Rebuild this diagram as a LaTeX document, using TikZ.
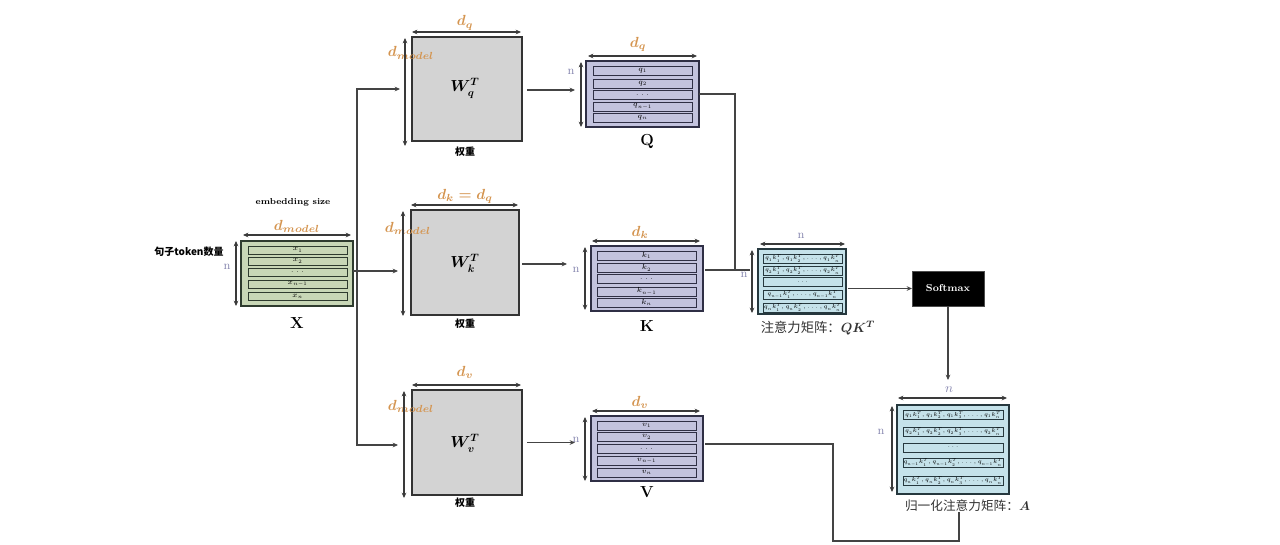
\RequirePackage{fix-cm}
\documentclass[tikz,border=0pt]{standalone}
\usepackage{fontspec}
\newfontfamily\cjk{Noto Sans CJK SC}
\usetikzlibrary{arrows.meta}
\definecolor{dor}{HTML}{D4944F}
\definecolor{ncol}{HTML}{8585AE}
\definecolor{dimc}{HTML}{3A3A3A}
\definecolor{connc}{HTML}{444444}
\definecolor{wfill}{HTML}{D3D3D3}
\definecolor{wline}{HTML}{333333}
\definecolor{xfill}{HTML}{C8D7B6}
\definecolor{xline}{HTML}{2E3B2E}
\definecolor{qfill}{HTML}{C3C3DE}
\definecolor{qline}{HTML}{2F2F45}
\definecolor{afill}{HTML}{C5E2EA}
\definecolor{aline}{HTML}{26383E}
\tikzset{
 sz/.style 2 args={minimum width=#1*0.75pt, minimum height=#2*0.75pt, inner sep=0pt, outer sep=0pt},
 dimarr/.style={draw=dimc, line width=0.9pt, {Stealth[length=4pt,width=3.5pt]}-{Stealth[length=4pt,width=3.5pt]}},
 connl/.style={draw=connc, line width=0.8pt},
 arrl/.style={connl, -{Stealth[length=4pt,width=3.5pt]}},
 wbox/.style={draw=wline, fill=wfill, line width=1pt},
 xbox/.style={draw=xline, fill=xfill, line width=1pt},
 qbox/.style={draw=qline, fill=qfill, line width=1pt},
 abox/.style={draw=aline, fill=afill, line width=1pt},
 xbar/.style={draw=xline, fill=xfill, line width=0.7pt, font=\fontsize{5.5}{6}\selectfont, sz={99}{8}},
 qbar/.style={draw=qline, fill=qfill, line width=0.7pt, font=\fontsize{5.5}{6}\selectfont, sz={99}{9}},
 kbar/.style={draw=aline, fill=afill, line width=0.7pt, font=\fontsize{4.4}{5}\selectfont, sz={79}{9}},
 abar/.style={draw=aline, fill=afill, line width=0.7pt, font=\fontsize{4.4}{5}\selectfont, sz={100}{9}},
 dlab/.style={text=dor, font=\boldmath\fontsize{11}{12}\selectfont, inner sep=0pt},
 nlab/.style={text=ncol, font=\fontsize{9}{10}\selectfont, inner sep=0pt},
 captxt/.style={font=\fontsize{12}{13}\selectfont\bfseries, inner sep=0pt},
 wlab/.style={font=\cjk\bfseries\fontsize{7.5}{8}\selectfont, inner sep=0pt},
 zcap/.style={text=black!80, font=\cjk\fontsize{10}{11}\selectfont, inner sep=0pt},
 wsym/.style={font=\boldmath\fontsize{12}{13}\selectfont, inner sep=0pt}
}
\begin{document}
\begin{tikzpicture}[x=0.75pt,y=-0.75pt]
\useasboundingbox (0,0) rectangle (1280,544);

% ---------- X ----------
\node[xbox, sz={112}{65}] (X) at (297,273.5) {};
\foreach \y/\t [count=\i] in {250/{$x_1$},261/{$x_2$},272.5/{$\dots$},284/{$x_{n-1}$},296.5/{$x_n$}}
  \node[xbar] (xb\i) at (297.5,\y) {\t};
\node[font=\fontsize{6.5}{7}\selectfont\bfseries, inner sep=0pt] (emb) at (293,202) {embedding size};
\node[dlab] (dX) at (297,226) {$d_{model}$};
\node[nlab] (nX) at (227,267) {n};
\node[wlab] (sent) at (189,252) {句子token数量};
\node[captxt] (capX) at (297,323) {X};
\draw[dimarr] ([shift={(2,-6)}]X.north west) -- ([shift={(-2,-6)}]X.north east);
\draw[dimarr] ([shift={(-5,0)}]X.north west) -- ([shift={(-5,0)}]X.south west);

% ---------- weights ----------
\node[wbox, sz={110}{104}] (Wq) at (467,89) {};
\node[wsym] (wqs) at (465,88) {$W_q^T$};
\node[dlab] (dq1) at (465,23) {$d_q$};
\node[dlab] (dm1) at (411,53) {$d_{model}$};
\node[wlab] (wq2) at (465,152) {权重};
\draw[dimarr] ([shift={(0,-5)}]Wq.north west) -- ([shift={(-1,-5)}]Wq.north east);
\draw[dimarr] ([shift={(-7,1)}]Wq.north west) -- ([shift={(-7,5)}]Wq.south west);

\node[wbox, sz={108}{105}] (Wk) at (465,262.5) {};
\node[wsym] (wks) at (465,263) {$W_k^T$};
\node[dlab] (dk1) at (465,196) {$d_k = d_q$};
\node[dlab] (dm2) at (408,228) {$d_{model}$};
\node[wlab] (wk2) at (465,324) {权重};
\draw[dimarr] ([shift={(0,-5)}]Wk.north west) -- ([shift={(-1,-5)}]Wk.north east);
\draw[dimarr] ([shift={(-8,1)}]Wk.north west) -- ([shift={(-8,1)}]Wk.south west);

\node[wbox, sz={110}{105}] (Wv) at (467,442.5) {};
\node[wsym] (wvs) at (465,443) {$W_v^T$};
\node[dlab] (dv1) at (465,372) {$d_v$};
\node[dlab] (dm3) at (411,406) {$d_{model}$};
\node[wlab] (wv2) at (465,503) {权重};
\draw[dimarr] ([shift={(0,-5)}]Wv.north west) -- ([shift={(-1,-5)}]Wv.north east);
\draw[dimarr] ([shift={(-8,1)}]Wv.north west) -- ([shift={(-8,3)}]Wv.south west);

% ---------- Q K V ----------
\node[qbox, sz={113}{66}] (Q) at (642.5,94) {};
\foreach \y/\t [count=\i] in {70.5/{$q_1$},83.5/{$q_2$},95/{$\dots$},106.5/{$q_{n-1}$},117.5/{$q_n$}}
  \node[qbar] (qb\i) at (642.5,\y) {\t};
\node[dlab] (dq2) at (638,44) {$d_q$};
\node[nlab] (nQ) at (571,72) {n};
\node[captxt] (capQ) at (647,141) {Q};
\draw[dimarr] ([shift={(2,-5)}]Q.north west) -- ([shift={(-2,-5)}]Q.north east);
\draw[dimarr] ([shift={(-5,1)}]Q.north west) -- ([shift={(-5,0)}]Q.south west);

\node[qbox, sz={112}{65}] (K) at (647,278.5) {};
\foreach \y/\t [count=\i] in {255.5/{$k_1$},268/{$k_2$},279/{$\dots$},291.5/{$k_{n-1}$},302.5/{$k_n$}}
  \node[qbar] (kb\i) at (646.5,\y) {\t};
\node[dlab] (dk2) at (640,232) {$d_k$};
\node[nlab] (nK) at (576,270) {n};
\node[captxt] (capK) at (647,326) {K};
\draw[dimarr] ([shift={(1,-5)}]K.north west) -- ([shift={(-3,-5)}]K.north east);
\draw[dimarr] ([shift={(-6,1)}]K.north west) -- ([shift={(-6,-1)}]K.south west);

\node[qbox, sz={112}{65}] (V) at (647,448.5) {};
\foreach \y/\t [count=\i] in {425.5/{$v_1$},437/{$v_2$},449/{$\dots$},461/{$v_{n-1}$},472.5/{$v_n$}}
  \node[qbar] (vb\i) at (646.5,\y) {\t};
\node[dlab] (dv2) at (640,402) {$d_v$};
\node[nlab] (nV) at (576,440) {n};
\node[captxt] (capV) at (647,492) {V};
\draw[dimarr] ([shift={(1,-5)}]V.north west) -- ([shift={(-3,-5)}]V.north east);
\draw[dimarr] ([shift={(-6,1)}]V.north west) -- ([shift={(-6,0)}]V.south west);

% ---------- QK^T ----------
\node[abox, sz={88}{65}] (S) at (802,281.5) {};
\foreach \y/\t [count=\i] in {258.5/{$q_1k_1^T, q_1k_2^T, \dots, q_1k_n^T$},270.5/{$q_2k_1^T, q_2k_2^T, \dots, q_2k_n^T$},282/{$\dots$},294.5/{$q_{n-1}k_1^T, \dots, q_{n-1}k_n^T$},307.5/{$q_nk_1^T, q_nk_2^T, \dots, q_nk_n^T$}}
  \node[kbar] (sb\i) at (802.5,\y) {\t};
\node[nlab] (nS1) at (801,236) {n};
\node[nlab] (nS2) at (744,275) {n};
\node[zcap] (capS) at (818,328) {注意力矩阵：{\boldmath$QK^T$}};
\draw[dimarr] ([shift={(2,-5)}]S.north west) -- ([shift={(-1,-5)}]S.north east);
\draw[dimarr] ([shift={(-6,1)}]S.north west) -- ([shift={(-6,-1)}]S.south west);

% ---------- Softmax ----------
\node[fill=black, draw=black!70, sz={72}{35}, text=white, font=\fontsize{7.5}{8}\selectfont\bfseries] (Sm) at (948,288.5) {Softmax};

% ---------- A ----------
\node[abox, sz={112}{89}] (A) at (953,449.5) {};
\foreach \y/\t [count=\i] in {415/{$q_1k_1^T, q_1k_2^T, q_1k_3^T, \dots, q_1k_n^T$},431.5/{$q_2k_1^T, q_2k_2^T, q_2k_3^T, \dots, q_2k_n^T$},447.5/{$\dots$},462.5/{$q_{n-1}k_1^T, q_{n-1}k_2^T, \dots, q_{n-1}k_n^T$},480.5/{$q_nk_1^T, q_nk_2^T, q_nk_3^T, \dots, q_nk_n^T$}}
  \node[abar] (ab\i) at (953,\y) {\t};
\node[text=ncol, font=\fontsize{10}{11}\selectfont, inner sep=0pt] (nA1) at (949,390) {$n$};
\node[nlab] (nA2) at (881,432) {n};
\node[zcap, font=\cjk\fontsize{9.5}{10}\selectfont] (capA) at (967.5,506) {归一化注意力矩阵：{\boldmath$A$}};
\draw[dimarr] ([shift={(1,-7)}]A.north west) -- ([shift={(-2,-7)}]A.north east);
\draw[dimarr] ([shift={(-5,1)}]A.north west) -- ([shift={(-5,-2)}]A.south west);

% ---------- connectors ----------
\coordinate (sp) at (357,271);
\coordinate (inK) at (398,271);
\coordinate (inQ) at (400,89);
\coordinate (inV) at (398,445);
\draw[arrl] (X.east |- inK) -- (inK);
\draw[arrl] (sp) |- (inQ);
\draw[arrl] (sp) |- (inV);

\draw[arrl] ([shift={(5,1)}]Wq.east) -- ++(48,0);
\draw[arrl] ([shift={(3,1.5)}]Wk.east) -- ++(45,0);
\draw[arrl] ([shift={(5,0)}]Wv.east) -- ++(48,0);

\coordinate (jq) at (735,270);
\coordinate (kin) at (750,270);
\draw[connl] (Q.east) -| (jq);
\draw[connl] ([xshift=1.5pt]K.east |- kin) -- (kin);

\draw[arrl] ([xshift=1.5pt]S.east |- Sm.west) -- (Sm.west);
\draw[arrl] (Sm.south) -- ++(0,74);

\coordinate (b1) at (833,444);
\coordinate (b2) at (959,541);
\draw[connl] ([xshift=1.5pt]V.east |- b1) -- (b1) |- (b2) -- (capA.south -| b2);
\end{tikzpicture}
\end{document}
